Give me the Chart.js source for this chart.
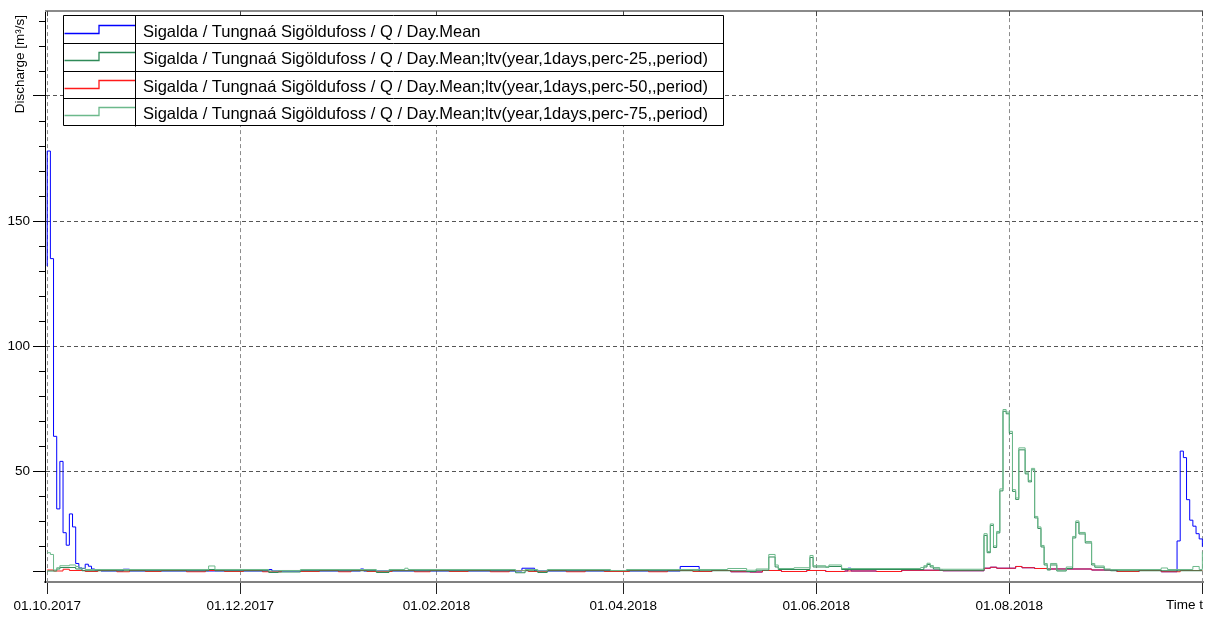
<!DOCTYPE html>
<html>
<head>
<meta charset="utf-8">
<script src="https://cdn.jsdelivr.net/npm/chart.js@4.4.1/dist/chart.umd.min.js"></script>
<style>
    html, body { margin: 0; padding: 0; background: #fff; }
    #wrap { width: 1208px; height: 617px; }
</style>
</head>
<body>
<div id="wrap"><canvas id="discharge" width="1208" height="617"></canvas></div>
<script>
// --- Eixos: dias desde 01.10.2017 ---
const xTickDays = [0, 61, 123, 182, 243, 304, 365];
const xTickLabels = ['01.10.2017', '01.12.2017', '01.02.2018', '01.04.2018', '01.06.2018', '01.08.2018', ''];
const yTickValues = [10, 50, 100, 150, 200];
const yTickLabels = [50, 100, 150];

const seriesLabels = [
    'Sigalda / Tungnaá Sigöldufoss / Q / Day.Mean',
    'Sigalda / Tungnaá Sigöldufoss / Q / Day.Mean;ltv(year,1days,perc-25,,period)',
    'Sigalda / Tungnaá Sigöldufoss / Q / Day.Mean;ltv(year,1days,perc-50,,period)',
    'Sigalda / Tungnaá Sigöldufoss / Q / Day.Mean;ltv(year,1days,perc-75,,period)'
];
const seriesColors = ['#0000ff', '#2f8a58', '#ff1a1a', '#6cb98b'];

// --- Séries em degraus: [dia, valor] onde o valor muda ---
const dayMean = [
    [0, 132], [0, 178], [1, 135], [2, 64], [3, 35], [4, 54], [5, 25.5], [6, 20.5], [7, 33], [8, 27.8],
    [9, 13.2], [10, 11.4], [11, 11.2], [12, 12.9], [13, 12.1], [14, 11], [15, 10.6], [17, 10.2], [24, 10.9],
    [26, 10.2], [70, 10.8], [71, 10.2], [99, 11], [100, 10.2], [150, 11.3], [154, 10.2], [200, 12],
    [206, 10], [210, 10.4], [216, 9.9], [222, 9.8], [226, 10.4], [232, 10], [240, 10.4], [246, 10],
    [252, 10.2], [253, 11.3], [254, 10.2], [262, 10], [270, 10.5], [283, 10.3], [296, 11.3], [298, 11.7],
    [300, 11.3], [306, 12], [308, 11.5], [312, 11.2], [316, 11], [330, 10.6], [338, 10], [345, 10.4], [352, 9.9],
    [357, 22.2], [358, 58.1], [359, 55.5], [360, 38.7], [361, 30.5], [362, 28.1], [363, 25.1], [364, 23], [365, 19.9]
];
const perc25 = [
    [0, 10.2], [3, 11], [4, 11.6], [9, 11], [11, 10.3], [51, 10.8], [53, 10.3], [70, 9.6], [73, 9.8], [80, 10.3],
    [104, 9.6], [108, 10.3], [148, 9.5], [151, 10.3], [155, 9.6], [158, 10.3], [221, 10], [224, 10.5],
    [228, 15.8], [230, 11.8], [231, 10.8], [241, 15.6], [242, 11.8], [247, 12], [251, 10.8],
    [277, 11.8], [278, 12.8], [279, 11.8], [280, 11], [282, 10.5],
    [296, 24.4], [297, 17.5], [298, 28.4], [299, 19.6], [300, 25.4], [301, 42.2], [302, 74], [303, 73],
    [304, 65.2], [305, 42], [306, 38.8], [307, 58.6], [309, 49], [310, 45.8], [311, 50.6], [312, 31.4],
    [313, 27.2], [314, 19.8], [315, 12.6], [316, 10.6], [317, 12.6], [319, 10.2], [322, 11.2],
    [324, 23.4], [325, 29.6], [326, 25], [328, 21.4], [330, 12.6], [331, 11.7], [334, 10.6], [336, 10.3], [365, 10.3]
];
const perc50 = [
    [0, 10.6], [2, 10.2], [5, 10.9], [7, 10.4], [12, 10], [16, 10.4], [22, 9.9], [26, 10.4], [31, 10],
    [36, 10.4], [44, 9.9], [50, 10.4], [56, 10], [62, 10.4], [68, 9.9], [74, 10.4], [80, 10], [86, 10.4],
    [92, 9.9], [96, 10.4], [101, 10], [109, 10.4], [116, 9.9], [121, 10.4], [127, 10], [133, 10.4], [140, 9.9],
    [146, 10.4], [152, 10], [158, 10.4], [164, 9.9], [170, 10.4], [176, 10], [184, 10.4], [190, 9.9],
    [196, 10.4], [204, 10], [210, 10.4], [216, 9.9], [222, 9.8], [226, 10.4], [232, 10], [240, 10.4],
    [246, 10], [252, 10.2], [262, 10], [270, 10.5], [283, 10.3],
    [296, 11.3], [298, 11.7], [300, 11.3], [306, 12], [308, 11.5], [312, 11.2], [316, 11], [330, 10.6],
    [338, 10], [345, 10.4], [352, 9.9], [358, 10.4], [365, 10.4]
];
const perc75 = [
    [0, 17.5], [1, 16.8], [2, 10.6], [3, 11.5], [4, 12.3], [7, 12.6], [9, 12], [10, 11.3], [12, 10.8],
    [51, 12.2], [53, 10.8], [70, 10.2], [73, 10.4], [80, 10.8], [104, 10.2], [108, 10.8], [113, 11.3], [114, 10.8],
    [148, 10.3], [151, 10.8], [155, 10.2], [158, 10.8], [178, 10.4], [183, 10.8], [215, 11.2], [221, 10.5],
    [224, 11], [228, 16.8], [230, 12.6], [231, 11.2], [236, 11.5], [241, 16.4], [242, 12.3], [246, 11.6],
    [247, 12.6], [251, 11.2], [276, 11.6], [277, 12.3], [278, 13.3], [279, 12.4], [280, 11.6], [282, 10.9],
    [296, 25.1], [297, 18], [298, 29], [299, 20.2], [300, 26], [301, 43], [302, 74.7], [303, 73.7], [304, 66],
    [305, 42.7], [306, 39.4], [307, 59.4], [309, 49.7], [310, 46.4], [311, 51.2], [312, 32], [313, 27.8],
    [314, 20.4], [315, 13.2], [316, 11], [317, 13.2], [319, 10.5], [322, 11.8], [324, 24], [325, 30.2],
    [326, 25.6], [328, 22], [330, 13.2], [331, 12.2], [334, 11], [336, 10.8], [352, 11.4], [354, 10.8],
    [362, 12], [364, 10.8], [365, 17.9]
];

const toPoints = arr => arr.map(([x, y]) => ({ x, y }));
const AXIS_FONT = { family: '"Liberation Sans", Arial, sans-serif', size: 13.5 };

// --- Moldura superior, ticks menores, título do eixo y e legenda em tabela ---
const framePlugin = {
    id: 'frameAndLegend',
    afterDraw(chart) {
        const { ctx, chartArea: a, scales: { x, y } } = chart;
        ctx.save();

        ctx.strokeStyle = '#8a8a8a';
        ctx.lineWidth = 2;
        ctx.beginPath();
        ctx.moveTo(a.left, a.top);
        ctx.lineTo(a.right, a.top);
        ctx.stroke();

        ctx.lineWidth = 1;
        ctx.strokeStyle = '#444';
        xTickDays.forEach(d => {
            const px = Math.round(x.getPixelForValue(d)) + 0.5;
            ctx.beginPath();
            ctx.moveTo(px, a.top);
            ctx.lineTo(px, a.top + 5);
            ctx.stroke();
        });

        ctx.strokeStyle = '#000';
        for (let v = 10; v <= y.max; v += 10) {
            if (yTickValues.includes(v)) continue;
            const py = Math.round(y.getPixelForValue(v)) + 0.5;
            ctx.beginPath();
            ctx.moveTo(a.left - 6, py);
            ctx.lineTo(a.left, py);
            ctx.stroke();
        }

        // título do eixo y, alinhado ao topo
        ctx.save();
        ctx.translate(20, 15);
        ctx.rotate(-Math.PI / 2);
        ctx.font = '13.5px "Liberation Sans", Arial, sans-serif';
        ctx.fillStyle = '#000';
        ctx.textAlign = 'right';
        ctx.textBaseline = 'middle';
        ctx.fillText('Discharge [m³/s]', 0, 0);
        ctx.restore();

        // legenda
        const left = 63.5, right = 723.5, top = 15.5, rowH = 27.5, sampleEnd = 135.5;
        const rows = seriesLabels.length;
        const bottom = top + rows * rowH;
        ctx.fillStyle = '#fff';
        ctx.fillRect(left, top, right - left, bottom - top);

        seriesLabels.forEach((label, i) => {
            const rTop = Math.round(top + i * rowH);
            ctx.strokeStyle = seriesColors[i];
            ctx.lineWidth = 1.3;
            ctx.beginPath();
            ctx.moveTo(left + 1, rTop + 17.5);
            ctx.lineTo(99, rTop + 17.5);
            ctx.lineTo(99, rTop + 9.5);
            ctx.lineTo(sampleEnd, rTop + 9.5);
            ctx.stroke();

            ctx.fillStyle = '#000';
            ctx.font = '16.5px "Liberation Sans", Arial, sans-serif';
            ctx.textAlign = 'left';
            ctx.textBaseline = 'alphabetic';
            ctx.fillText(label, 143, rTop + 21);
        });

        ctx.strokeStyle = '#000';
        ctx.lineWidth = 1;
        ctx.beginPath();
        ctx.rect(left, top, right - left, Math.round(bottom - top));
        for (let i = 1; i < rows; i++) {
            const ry = Math.round(top + i * rowH) + 0.5;
            ctx.moveTo(left, ry);
            ctx.lineTo(right, ry);
        }
        ctx.moveTo(sampleEnd, top);
        ctx.lineTo(sampleEnd, Math.round(bottom) + 0.5);
        ctx.stroke();

        ctx.restore();
    }
};

const datasets = [dayMean, perc25, perc50, perc75].map((arr, i) => ({
    label: seriesLabels[i],
    data: toPoints(arr),
    borderColor: seriesColors[i],
    borderWidth: 1,
    pointRadius: 0,
    stepped: true,
    fill: false,
    order: [4, 2, 3, 1][i]
}));

new Chart(document.getElementById('discharge'), {
    type: 'line',
    data: { datasets },
    plugins: [framePlugin],
    options: {
        responsive: false,
        animation: false,
        devicePixelRatio: 1,
        parsing: false,
        events: [],
        layout: { padding: { top: 10, right: 5, left: 0, bottom: 0 } },
        plugins: { legend: { display: false }, tooltip: { enabled: false } },
        scales: {
            x: {
                type: 'linear',
                min: -0.7,
                max: 365.2,
                afterBuildTicks: s => { s.ticks = xTickDays.map(v => ({ value: v })); },
                afterFit: s => { s.height = 35; },
                ticks: {
                    callback: (v, i) => xTickLabels[i],
                    autoSkip: false,
                    maxRotation: 0,
                    color: '#000',
                    font: AXIS_FONT,
                    padding: 4
                },
                grid: { color: '#8c8c8c', tickColor: '#222', tickLength: 12 },
                border: { display: true, color: '#808080', width: 2, dash: [4, 3] },
                title: {
                    display: true, text: 'Time t', align: 'end', color: '#000',
                    font: AXIS_FONT, padding: { top: 0, bottom: 4 }
                }
            },
            y: {
                min: 5.8,
                max: 233.9,
                afterBuildTicks: s => { s.ticks = yTickValues.map(v => ({ value: v })); },
                afterFit: s => { s.width = 45; },
                ticks: {
                    callback: v => (yTickLabels.includes(v) ? String(v) : ''),
                    color: '#000',
                    font: AXIS_FONT,
                    padding: 3
                },
                grid: {
                    color: c => (c.tick && c.tick.value === 10 ? 'rgba(0,0,0,0)' : '#555'),
                    tickColor: '#000',
                    tickLength: 12
                },
                border: { display: true, color: '#000', width: 1, dash: [4, 3] }
            }
        }
    }
});
</script>
</body>
</html>
